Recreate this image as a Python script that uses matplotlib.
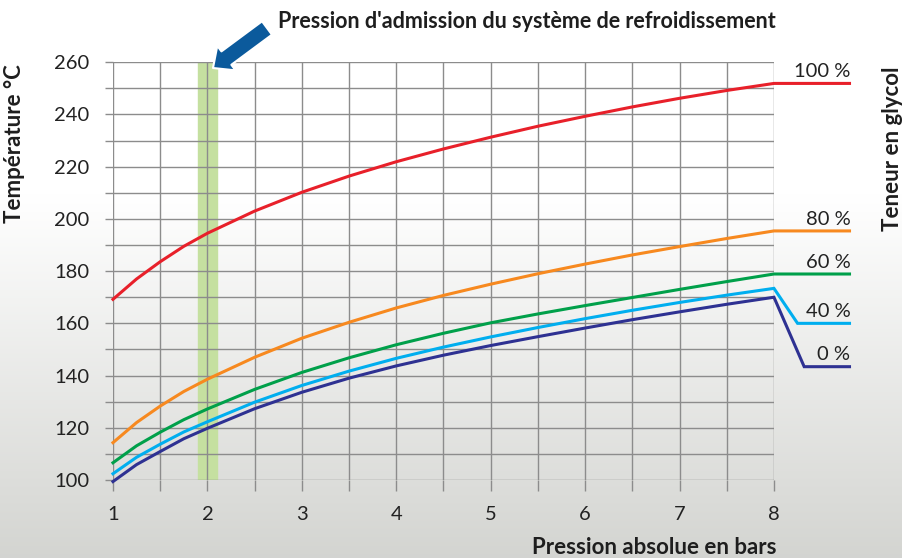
import matplotlib
matplotlib.use("Agg")
import matplotlib.pyplot as plt
import numpy as np

plt.rcParams['font.family'] = ['Lato', 'DejaVu Sans']

# pression absolue (bar)
pression = [1, 1.25, 1.5, 1.75, 2, 2.5, 3, 3.5, 4, 4.5, 5, 5.5, 6, 6.5, 7, 7.5, 8]

# temperature d'ebullition (°C) par teneur en glycol
t_100 = [169.2, 177.0, 183.6, 189.5, 194.5, 203.0, 210.2, 216.4, 221.9, 226.8,
         231.3, 235.5, 239.3, 242.9, 246.2, 249.2, 251.9]
t_80 = [114.3, 122.0, 128.3, 133.9, 138.6, 147.0, 154.3, 160.4, 165.9, 170.7,
        175.0, 179.0, 182.7, 186.2, 189.4, 192.5, 195.4]
t_60 = [106.6, 113.1, 118.3, 123.1, 127.2, 134.7, 141.2, 146.8, 151.8, 156.2,
        160.2, 163.6, 166.8, 169.9, 173.0, 176.0, 178.9]
t_40 = [102.4, 108.7, 113.7, 118.4, 122.3, 129.8, 136.2, 141.7, 146.6, 150.9,
        154.8, 158.4, 161.8, 165.0, 168.0, 170.8, 173.4]
t_0 = [99.4, 105.9, 110.9, 115.8, 119.8, 127.3, 133.6, 139.0, 143.7, 147.8,
       151.5, 154.9, 158.2, 161.4, 164.4, 167.3, 170.0]

# bout de courbe a droite de la grille (etiquettes)
fin_x = {'100 %': [8.8], '80 %': [8.8], '60 %': [8.8],
         '40 %': [8.25, 8.8], '0 %': [8.32, 8.8]}
fin_y = {'100 %': [251.9], '80 %': [195.4], '60 %': [178.9],
         '40 %': [160.0, 160.0], '0 %': [143.4, 143.4]}

series = {'100 %': t_100, '80 %': t_80, '60 %': t_60, '40 %': t_40, '0 %': t_0}
colors = {'100 %': '#e8202a', '80 %': '#f7891f', '60 %': '#00a04a',
          '40 %': '#00aeef', '0 %': '#2e3192'}

bande = (1.9, 2.1)

fig = plt.figure(figsize=(9.03, 5.58), dpi=100)

# fond degrade
bg = fig.add_axes([0, 0, 1, 1], zorder=-10)
h = np.linspace(0, 1, 300)
shade = np.clip((h - 0.35) / 0.65, 0, 1)
top = np.array([1.0, 1.0, 1.0])
bot = np.array([0.83, 0.834, 0.82])
grad = top[None, :] * (1 - shade[:, None]) + bot[None, :] * shade[:, None]
bg.imshow(grad[:, None, :], aspect='auto', extent=[0, 1, 0, 1])
bg.axis('off')

ax = fig.add_axes([0.1251, 0.1398, 0.7320, 0.7486])
ax.set_facecolor('none')
ax.set_xlim(1, 8)
ax.set_ylim(100, 260)

for s in ax.spines.values():
    s.set_visible(False)

ax.set_xticks(np.arange(1, 9, 1))
ax.set_xticks(np.arange(1.5, 8, 1), minor=True)
ax.set_yticks(np.arange(100, 261, 20))
ax.set_yticks(np.arange(110, 260, 20), minor=True)
ax.set_axisbelow(True)
ax.grid(True, which='both', color='#8c8c8c', linewidth=1.0)
ax.tick_params(axis='x', which='both', length=8, width=1.0, color='#8c8c8c',
               pad=11, labelsize=14.5, labelcolor='#222222')
ax.tick_params(axis='y', which='both', length=6, width=1.0, color='#8c8c8c',
               pad=11, labelsize=14.5, labelcolor='#222222')

ax.axvspan(bande[0], bande[1], ymin=0, ymax=1, color='#c5e0a0', zorder=0.3)

for name, vals in series.items():
    xs = pression + fin_x[name]
    ys = vals + fin_y[name]
    ax.plot(xs, ys, color=colors[name], linewidth=2.2, clip_on=False,
            solid_joinstyle='miter', zorder=3)
    ax.text(8.81, fin_y[name][-1] + 2.4, name, ha='right', va='baseline',
            fontsize=14.5, color='#222222')

ax.annotate('', xy=(213, 490), xytext=(267, 530), xycoords='figure pixels',
            textcoords='figure pixels',
            arrowprops=dict(arrowstyle='simple,head_length=0.6,head_width=1.1,tail_width=0.6',
                            mutation_scale=20, facecolor='#0b5a9c',
                            edgecolor='white', linewidth=1.5, shrinkA=0, shrinkB=0),
            zorder=5)

fig.text(776 / 903, 1 - 22 / 558, "Pression d'admission du système de refroidissement",
         ha='right', va='center', fontsize=15.5, fontweight='bold', color='#1e1e1e')
fig.text(777 / 903, 1 - 548 / 558, "Pression absolue en bars",
         ha='right', va='center', fontsize=16, fontweight='bold', color='#1e1e1e')
fig.text(15 / 903, 1 - 144 / 558, "Température °C", rotation=90,
         ha='center', va='center', fontsize=16, fontweight='bold', color='#1e1e1e')
fig.text(893 / 903, 1 - 149 / 558, "Teneur en glycol", rotation=90,
         ha='center', va='center', fontsize=16, fontweight='bold', color='#1e1e1e')

fig.savefig('out.png', dpi=100)
